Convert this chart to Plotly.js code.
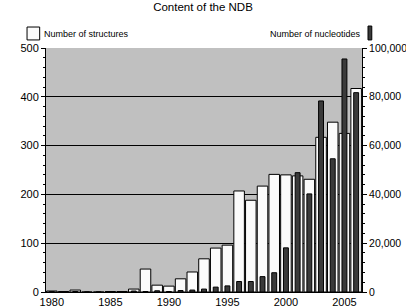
<!DOCTYPE html>
<html>
<head>
<meta charset="utf-8">
<script src="https://cdn.plot.ly/plotly-3.0.1.min.js"></script>
<style>html,body{margin:0;padding:0;background:#fff;}#chart{width:406px;height:307px;}</style>
</head>
<body>
<div id="chart"></div>
<script>
const years = [1980,1981,1982,1983,1984,1985,1986,1987,1988,1989,1990,1991,1992,1993,1994,1995,1996,1997,1998,1999,2000,2001,2002,2003,2004,2005,2006];
const structures = [2,1,4,0,0,1,1,6,47,14,12,27,41,68,90,96,207,188,217,241,240,238,231,317,348,325,417];
const nucleotides = [100,100,200,0,0,100,100,400,200,500,200,600,800,1200,2000,2500,4300,4300,6300,7900,18100,48900,40200,78300,54600,95500,81700];
const xTicks = [1980,1985,1990,1995,2000,2005];
const leftTicks = [0,100,200,300,400,500];
const rightTicks = [0,20000,40000,60000,80000,100000];
const rightTickText = ['0','20,000','40,000','60,000','80,000','100,000'];

const fam = 'Liberation Sans, Arial, Helvetica, sans-serif';
const font = {family:fam, size:11, color:'#000'};

const traces = [
  {type:'bar', x:years, y:structures, yaxis:'y', name:'Number of structures', width:0.9,
   marker:{color:'#fbfbfb', line:{color:'#000', width:1}}, showlegend:false, hoverinfo:'skip'},
  {type:'bar', x:years, y:nucleotides, yaxis:'y2', name:'Number of nucleotides', width:0.42,
   marker:{color:'#3a3a3a', line:{color:'#000', width:1}}, showlegend:false, hoverinfo:'skip'}
];

const layout = {
  width:406, height:307,
  margin:{l:46, r:44, t:48, b:15, pad:0},
  paper_bgcolor:'#fff', plot_bgcolor:'#c0c0c0',
  font:font,
  barmode:'overlay',
  title:{text:'Content of the NDB', x:0.5, xanchor:'center', y:0.978, yanchor:'middle', font:{family:fam, size:11.5, color:'#000'}},
  xaxis:{range:[1979.5,2006.5], tickvals:xTicks, ticktext:xTicks.map(String), ticks:'', showgrid:false,
         zeroline:false, showline:true, linecolor:'#000', linewidth:1, tickfont:font, fixedrange:true},
  yaxis:{range:[0,500], tickvals:leftTicks, ticks:'outside', ticklen:4, tickcolor:'#000', tickwidth:1,
         minor:{dtick:20, ticks:'outside', ticklen:2, tickcolor:'#000', showgrid:false},
         showgrid:true, gridcolor:'#000', gridwidth:1, zeroline:false, showline:true, linecolor:'#000', linewidth:1,
         tickfont:font, fixedrange:true},
  yaxis2:{range:[0,100000], overlaying:'y', side:'right', tickvals:rightTicks, ticktext:rightTickText,
          ticks:'outside', ticklen:4, tickcolor:'#000', tickwidth:1,
          minor:{dtick:4000, ticks:'outside', ticklen:2, tickcolor:'#000', showgrid:false},
          showgrid:false, zeroline:false, showline:true, linecolor:'#000', linewidth:1,
          tickfont:{family:fam, size:10.5, color:'#000'}, fixedrange:true},
  shapes:[
    {type:'rect', xref:'paper', yref:'paper', x0:-0.060, x1:-0.020, y0:1.033, y1:1.086,
     fillcolor:'#fbfbfb', line:{color:'#000', width:1}},
    {type:'rect', xref:'paper', yref:'paper', x0:1.019, x1:1.031, y0:1.033, y1:1.090,
     fillcolor:'#3a3a3a', line:{color:'#000', width:1}}
  ],
  annotations:[
    {text:'Number of structures', xref:'paper', yref:'paper', x:-0.012, y:1.058, xanchor:'left', yanchor:'middle',
     showarrow:false, font:{family:fam, size:9, color:'#000'}},
    {text:'Number of nucleotides', xref:'paper', yref:'paper', x:1.004, y:1.058, xanchor:'right', yanchor:'middle',
     showarrow:false, font:{family:fam, size:9, color:'#000'}}
  ]
};

Plotly.newPlot('chart', traces, layout, {staticPlot:true, displayModeBar:false});
</script>
</body>
</html>
